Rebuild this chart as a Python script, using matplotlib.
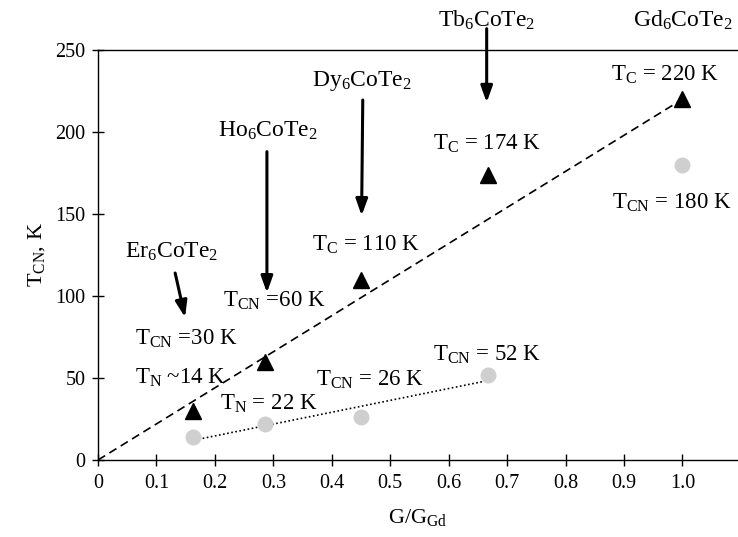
import numpy as np
import matplotlib.pyplot as plt

plt.rcParams['font.family'] = ['Liberation Serif', 'DejaVu Serif']
plt.rcParams['mathtext.fontset'] = 'custom'
plt.rcParams['mathtext.rm'] = 'Liberation Serif'
plt.rcParams['mathtext.it'] = 'Liberation Serif:italic'

# de Gennes factor relative to Gd
compounds = ['Er', 'Ho', 'Dy', 'Tb', 'Gd']
g_ratio = [0.162, 0.286, 0.45, 0.667, 1.0]
t_upper = [30, 60, 110, 174, 220]   # black triangles
t_lower = [14, 22, 26, 52, 180]     # grey circles

fig = plt.figure(figsize=(7.38, 5.37), dpi=100)
ax = fig.add_axes([0.1328, 0.1434, 0.8672, 0.7635])

# straight dashed line from origin through the Gd point
ax.plot([0, g_ratio[-1]], [0, t_upper[-1]], ls=(0, (5, 3)), color='black', lw=1.2, zorder=2)

# dotted linear fit through the heavy-RE lower transitions
k, b = np.polyfit(g_ratio[:4], t_lower[:4], 1)
xf = np.array([g_ratio[0] + 0.01, g_ratio[3]])
ax.plot(xf, k * xf + b, ls=(0, (1, 1.5)), color='black', lw=1.2, zorder=2)

ax.plot(g_ratio, t_upper, '^', color='black', ms=12, zorder=3)
ax.plot(g_ratio, t_lower, 'o', color='#cfcfcf', ms=11.5, mec='none', zorder=3)

ax.set_xlim(0, 1.095)
ax.set_ylim(0, 250)
ax.set_xticks(np.arange(0, 1.01, 0.1))
ax.set_xticklabels(['0'] + ['%.1f' % v for v in np.arange(0.1, 1.01, 0.1)])
ax.set_yticks(range(0, 251, 50))
ax.tick_params(direction='inout', length=8, width=1, labelsize=14.5)
ax.tick_params(axis='x', pad=6)
ax.tick_params(axis='y', pad=5)
ax.spines['right'].set_visible(False)
for s in ['left', 'bottom', 'top']:
    ax.spines[s].set_linewidth(1)

ax.set_xlabel('G/G$_{\\mathrm{Gd}}$', fontsize=16, labelpad=10)
ax.set_ylabel('T$_{\\mathrm{CN}}$, K', fontsize=16, labelpad=6)

# value labels
fs = 16.5
ax.text(0.063, 74, 'T$_{\\mathrm{CN}}$ =30 K', fontsize=fs, va='center')
ax.text(0.063, 50, 'T$_{\\mathrm{N}}$ ~14 K', fontsize=fs, va='center')
ax.text(0.209, 34, 'T$_{\\mathrm{N}}$ = 22 K', fontsize=fs, va='center')
ax.text(0.214, 97, 'T$_{\\mathrm{CN}}$ =60 K', fontsize=fs, va='center')
ax.text(0.373, 49, 'T$_{\\mathrm{CN}}$ = 26 K', fontsize=fs, va='center')
ax.text(0.366, 131, 'T$_{\\mathrm{C}}$ = 110 K', fontsize=fs, va='center')
ax.text(0.573, 64, 'T$_{\\mathrm{CN}}$ = 52 K', fontsize=fs, va='center')
ax.text(0.573, 193, 'T$_{\\mathrm{C}}$ = 174 K', fontsize=fs, va='center')
ax.text(0.878, 235, 'T$_{\\mathrm{C}}$ = 220 K', fontsize=fs, va='center')
ax.text(0.879, 157, 'T$_{\\mathrm{CN}}$ = 180 K', fontsize=fs, va='center', clip_on=False)

# compound names with arrows
arrow = dict(arrowstyle='-|>,head_width=0.25,head_length=0.7', lw=2.2,
             color='black', mutation_scale=14, shrinkA=0, shrinkB=0)
name_fs = 17
ax.text(0.126, 127, 'Er$_6$CoTe$_2$', fontsize=name_fs, ha='center', va='center')
ax.annotate('', xy=(0.149, 87), xytext=(0.132, 114), arrowprops=arrow)
ax.text(0.29, 200.6, 'Ho$_6$CoTe$_2$', fontsize=name_fs, ha='center', va='center')
ax.annotate('', xy=(0.289, 102), xytext=(0.289, 188), arrowprops=arrow)
ax.text(0.451, 231, 'Dy$_6$CoTe$_2$', fontsize=name_fs, ha='center', va='center')
ax.annotate('', xy=(0.451, 149), xytext=(0.453, 219.5), arrowprops=arrow)
ax.text(0.665, 268, 'Tb$_6$CoTe$_2$', fontsize=name_fs, ha='center', va='center', clip_on=False)
ax.annotate('', xy=(0.665, 218), xytext=(0.665, 263), arrowprops=arrow, annotation_clip=False)
ax.text(1.0, 268, 'Gd$_6$CoTe$_2$', fontsize=name_fs, ha='center', va='center', clip_on=False)

fig.savefig('out.png', dpi=100)
